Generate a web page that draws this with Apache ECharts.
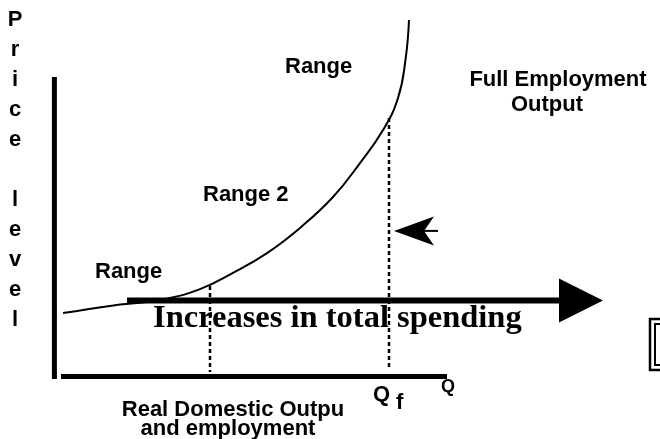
<!DOCTYPE html>
<html>
<head>
<meta charset="utf-8">
<script src="https://cdn.jsdelivr.net/npm/echarts@6/dist/echarts.min.js"></script>
<style>
  html, body { margin: 0; padding: 0; background: #fff; }
  #chart { width: 660px; height: 439px; }
</style>
</head>
<body>
<div id="chart"></div>
<script>
// supply curve (Q = real output, P = price level)
const curveQ = [0.75, 12.5, 25, 35, 43.25, 51.75, 60, 68.25, 75, 80.75, 84.5, 86.4, 87.25];
const curveP = [21.3, 23.7, 25.7, 29.3, 34.7, 41.3, 49.7, 60, 71.3, 82.3, 93, 106, 119];

// dashed drop lines from the curve down to the Q axis
const dropQ = [37.5, 82.25];
const dropTop = [30.3, 86.3];
const dropBottom = [1.7, 2.7];

// hand drawn axes
const priceAxisQ = [-1.4, -1.4];
const priceAxisP = [-0.7, 100];
const outputAxisQ = [0.25, 96.75];
const outputAxisP = [0.2, 0.2];

// "increases in total spending" arrow
const spendQ = [16.75, 126];
const spendP = [25.5, 25.5];
const spendHead = [130.25, 25.5];

// small arrow pointing at Qf
const pointerQ = [88, 94.5];
const pointerP = [48.7, 48.7];
const pointerHead = [88.5, 48.7];

const sans = 'Liberation Sans, Arial, sans-serif';

const chart = echarts.init(document.getElementById('chart'));

const pairs = (xs, ys) => xs.map((x, i) => [x, ys[i]]);

const series = [
  {
    type: 'line',
    data: pairs(curveQ, curveP),
    smooth: 0.45,
    symbol: 'none',
    lineStyle: { color: '#000', width: 2 }
  },
  {
    type: 'line',
    data: pairs(priceAxisQ, priceAxisP),
    symbol: 'none',
    lineStyle: { color: '#000', width: 5 }
  },
  {
    type: 'line',
    data: pairs(outputAxisQ, outputAxisP),
    symbol: 'none',
    lineStyle: { color: '#000', width: 5 }
  },
  {
    type: 'line',
    data: pairs(spendQ, spendP),
    symbol: 'none',
    lineStyle: { color: '#000', width: 6 }
  },
  {
    type: 'scatter',
    data: [spendHead],
    symbol: 'triangle',
    symbolRotate: -90,
    symbolSize: [44, 44],
    itemStyle: { color: '#000', opacity: 1 }
  },
  {
    type: 'line',
    data: pairs(pointerQ, pointerP),
    symbol: 'none',
    lineStyle: { color: '#000', width: 2 }
  },
  {
    type: 'scatter',
    data: [pointerHead],
    symbol: 'path://M0,10 L40,0 L30,10 L40,20 Z',
    symbolSize: [40, 29],
    itemStyle: { color: '#000', opacity: 1 }
  }
];

dropQ.forEach((q, i) => {
  series.push({
    type: 'line',
    data: [[q, dropTop[i]], [q, dropBottom[i]]],
    symbol: 'none',
    lineStyle: { color: '#000', width: 2.5, type: [4, 3] }
  });
});

const label = (text, x, y, opts) => Object.assign({
  type: 'text',
  x: x,
  y: y,
  style: Object.assign({
    text: text,
    fill: '#000',
    font: 'bold 22px ' + sans,
    verticalAlign: 'middle'
  }, opts || {})
});

chart.setOption({
  animation: false,
  backgroundColor: '#fff',
  grid: { left: 0, right: 0, top: 2, bottom: 2 },
  xAxis: { type: 'value', min: -15, max: 150, show: false },
  yAxis: { type: 'value', min: -20, max: 125, show: false },
  series: series,
  graphic: [
    label('P\nr\ni\nc\ne\n\nl\ne\nv\ne\nl', 15, 5, { align: 'center', verticalAlign: 'top', lineHeight: 30 }),
    label('Range', 285, 67),
    label('Full Employment', 558, 80, { align: 'center' }),
    label('Output', 547, 105, { align: 'center' }),
    label('Range 2', 203, 195),
    label('Range', 95, 272),
    label('Increases in total spending', 153, 319, { font: 'bold 32.5px Liberation Serif, Times New Roman, serif' }),
    label('Real Domestic Outpu', 233, 410, { align: 'center' }),
    label('and employment', 228, 429, { align: 'center' }),
    label('Q', 373, 395),
    label('f', 396, 403),
    label('Q', 441, 387, { font: 'bold 18px ' + sans }),
    { type: 'rect', shape: { x: 650, y: 319, width: 20, height: 51 }, style: { fill: 'none', stroke: '#000', lineWidth: 2.5 } },
    { type: 'rect', shape: { x: 655, y: 324, width: 20, height: 41 }, style: { fill: 'none', stroke: '#000', lineWidth: 2 } }
  ]
});
</script>
</body>
</html>
